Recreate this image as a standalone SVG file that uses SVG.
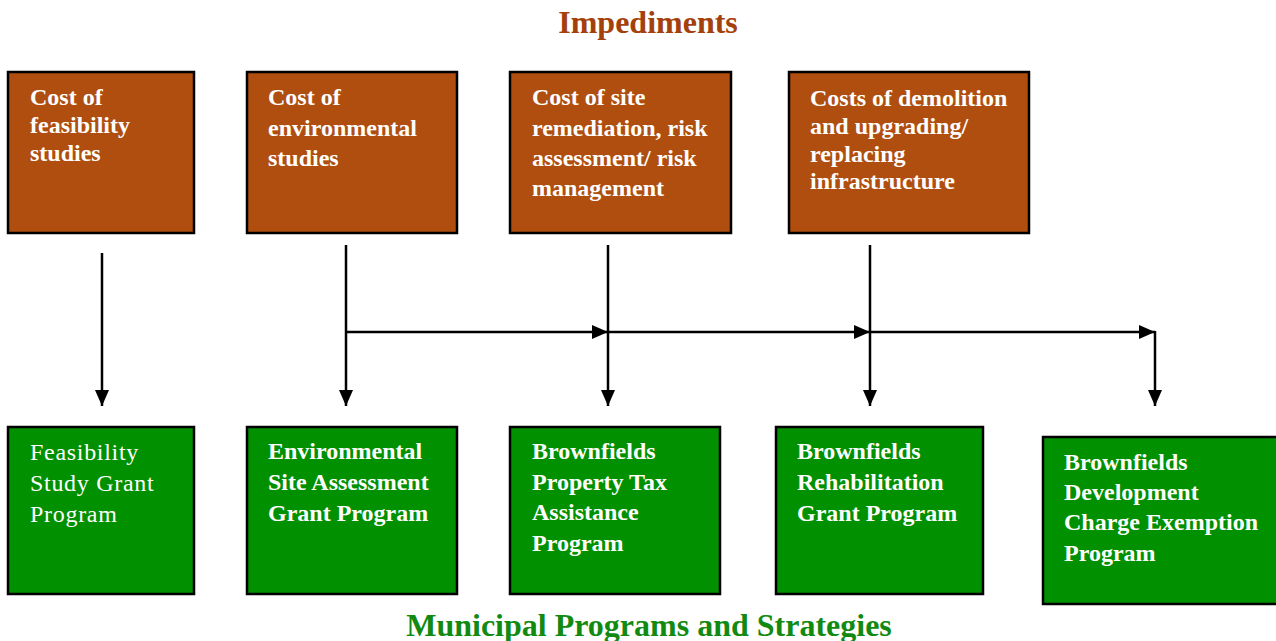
<svg xmlns="http://www.w3.org/2000/svg" width="1276" height="641" viewBox="0 0 1276 641">
<style>
.imp{fill:#B04E0F;stroke:#000;stroke-width:2.5}
.prog{fill:#009000;stroke:#000;stroke-width:2.5}
.t{font-family:"Liberation Serif","Times New Roman",serif;font-size:24px;fill:#fff;font-weight:bold}
.reg{font-weight:normal;letter-spacing:0.7px}
.title{font-family:"Liberation Serif","Times New Roman",serif;font-size:32px;font-weight:bold;text-anchor:middle}
.c{stroke:#000;stroke-width:2.5;fill:none}
</style>
<defs>
<marker id="ah" viewBox="0 0 10 10" refX="10" refY="5" markerWidth="6" markerHeight="6" markerUnits="userSpaceOnUse" orient="auto">
<path d="M0,0 L10,5 L0,10 z" fill="#000"/>
</marker>
<marker id="a" viewBox="0 0 16 14" refX="16" refY="7" markerWidth="16" markerHeight="14" markerUnits="userSpaceOnUse" orient="auto">
<path d="M0,0 L16,7 L0,14 z" fill="#000"/>
</marker>
</defs>
<text class="title" x="648" y="33" fill="#A3400C">Impediments</text>
<text class="title" x="649" y="636" fill="#128A12">Municipal Programs and Strategies</text>

<g id="imp1"><rect class="imp" x="8" y="72" width="186" height="161"/>
<text class="t"><tspan x="30" y="105">Cost of</tspan><tspan x="30" y="133">feasibility</tspan><tspan x="30" y="161">studies</tspan></text></g>
<g id="imp2"><rect class="imp" x="247" y="72" width="210" height="161"/>
<text class="t"><tspan x="268" y="105">Cost of</tspan><tspan x="268" y="136">environmental</tspan><tspan x="268" y="166">studies</tspan></text></g>
<g id="imp3"><rect class="imp" x="510" y="72" width="221" height="161"/>
<text class="t"><tspan x="532" y="105">Cost of site</tspan><tspan x="532" y="136">remediation, risk</tspan><tspan x="532" y="166">assessment/ risk</tspan><tspan x="532" y="196">management</tspan></text></g>
<g id="imp4"><rect class="imp" x="789" y="72" width="240" height="161"/>
<text class="t"><tspan x="810" y="106">Costs of demolition</tspan><tspan x="810" y="134">and upgrading/</tspan><tspan x="810" y="162">replacing</tspan><tspan x="810" y="189">infrastructure</tspan></text></g>

<g id="prog1"><rect class="prog" x="8" y="427" width="186" height="167"/>
<text class="t reg"><tspan x="30" y="460">Feasibility</tspan><tspan x="30" y="491">Study Grant</tspan><tspan x="30" y="522">Program</tspan></text></g>
<g id="prog2"><rect class="prog" x="247" y="427" width="210" height="167"/>
<text class="t"><tspan x="268" y="459">Environmental</tspan><tspan x="268" y="490">Site Assessment</tspan><tspan x="268" y="521">Grant Program</tspan></text></g>
<g id="prog3"><rect class="prog" x="510" y="427" width="210" height="167"/>
<text class="t"><tspan x="532" y="459">Brownfields</tspan><tspan x="532" y="490">Property Tax</tspan><tspan x="532" y="520">Assistance</tspan><tspan x="532" y="551">Program</tspan></text></g>
<g id="prog4"><rect class="prog" x="776" y="427" width="207" height="167"/>
<text class="t"><tspan x="797" y="459">Brownfields</tspan><tspan x="797" y="490">Rehabilitation</tspan><tspan x="797" y="521">Grant Program</tspan></text></g>
<g id="prog5"><rect class="prog" x="1043" y="437" width="236" height="167"/>
<text class="t"><tspan x="1064" y="470">Brownfields</tspan><tspan x="1064" y="500">Development</tspan><tspan x="1064" y="530">Charge Exemption</tspan><tspan x="1064" y="561">Program</tspan></text></g>

<g id="connectors">
<line class="c" x1="102" y1="253" x2="102" y2="406" marker-end="url(#a)"/>
<line class="c" x1="346" y1="245" x2="346" y2="406" marker-end="url(#a)"/>
<line class="c" x1="608" y1="245" x2="608" y2="406" marker-end="url(#a)"/>
<line class="c" x1="870" y1="245" x2="870" y2="406" marker-end="url(#a)"/>
<line class="c" x1="346" y1="332" x2="608" y2="332" marker-end="url(#a)"/>
<line class="c" x1="608" y1="332" x2="870" y2="332" marker-end="url(#a)"/>
<line class="c" x1="870" y1="332" x2="1155" y2="332" marker-end="url(#a)"/>
<line class="c" x1="1155" y1="331" x2="1155" y2="406" marker-end="url(#a)"/>
</g>
</svg>
